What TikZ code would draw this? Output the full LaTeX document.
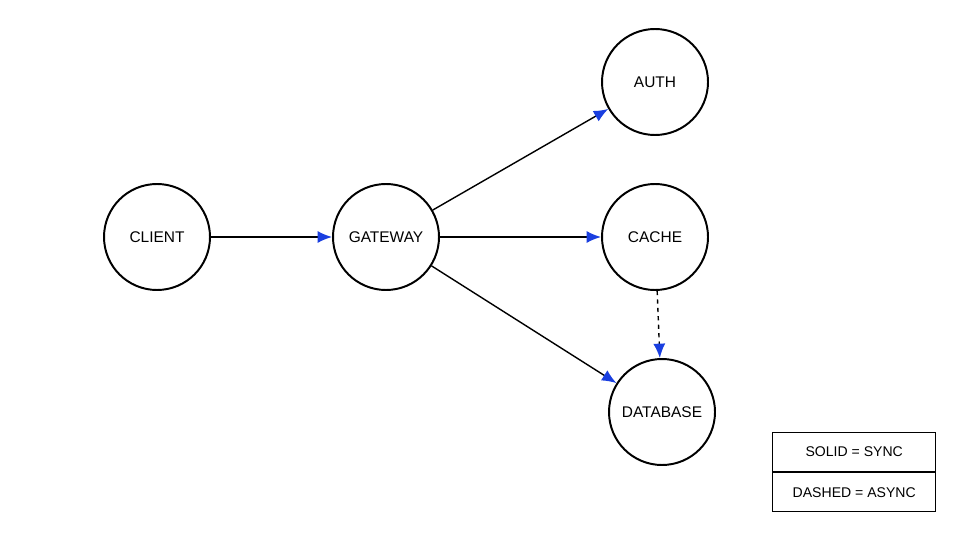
\documentclass[tikz,border=0pt]{standalone}
\usepackage{fontspec}
\setmainfont{Liberation Sans}
\usetikzlibrary{arrows.meta}
\definecolor{tipblue}{HTML}{1A3FE0}

\begin{document}
\begin{tikzpicture}[
    svc/.style={circle,draw,line width=1.4pt,minimum size=2.65cm,inner sep=0pt,font=\fontsize{11}{13}\selectfont},
    link/.style={line width=1pt,-{Latex[length=3.6mm,width=3mm,fill=tipblue,color=tipblue]}},
    legend/.style={draw,line width=1pt,minimum width=4.075cm,minimum height=0.975cm,font=\fontsize{10}{12}\selectfont}
  ]
    \useasboundingbox (0,0) rectangle (24,13.5);

    \node[svc] (client) at (3.925,7.575) {CLIENT};
    \node[svc] (gateway) at (9.65,7.575) {GATEWAY};
    \node[svc] (auth) at (16.375,11.45) {AUTH};
    \node[svc] (cache) at (16.375,7.575) {CACHE};
    \node[svc] (database) at (16.55,3.2) {DATABASE};

    \draw[link] (client) -- (gateway);
    \draw[link] (gateway) -- (auth);
    \draw[link] (gateway) -- (cache);
    \draw[link] (gateway) -- (database);
    \draw[link,dashed] (cache) -- (database);

    % legend
    \node[legend,anchor=south west] (sync) at (19.3,1.7) {SOLID = SYNC};
    \node[legend,anchor=north west] (async) at (19.3,1.7) {DASHED = ASYNC};

  \end{tikzpicture}
\end{document}
